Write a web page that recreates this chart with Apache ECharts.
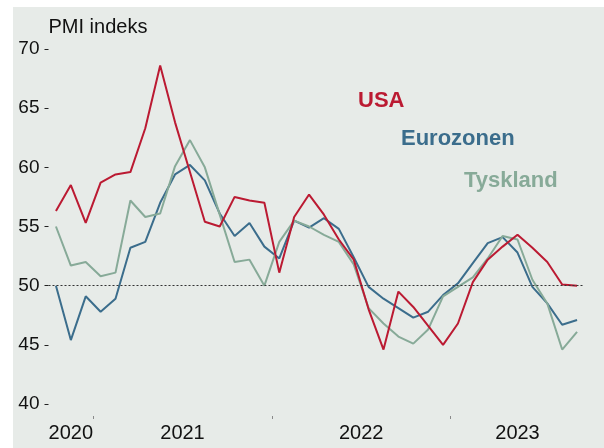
<!DOCTYPE html>
<html>
<head>
<meta charset="utf-8">
<script src="https://cdn.jsdelivr.net/npm/echarts@6/dist/echarts.min.js"></script>
<style>
  html, body { margin: 0; padding: 0; background: #fff; }
  #chart { width: 604px; height: 448px; }
</style>
</head>
<body>
<div id="chart"></div>
<script>
const MONTHS = [
  "2020-10", "2020-11", "2020-12",
  "2021-01", "2021-02", "2021-03", "2021-04", "2021-05", "2021-06",
  "2021-07", "2021-08", "2021-09", "2021-10", "2021-11", "2021-12",
  "2022-01", "2022-02", "2022-03", "2022-04", "2022-05", "2022-06",
  "2022-07", "2022-08", "2022-09", "2022-10", "2022-11", "2022-12",
  "2023-01", "2023-02", "2023-03", "2023-04", "2023-05", "2023-06",
  "2023-07", "2023-08", "2023-09",
];
const YEAR_LABELS = ["2020", "2021", "2022", "2023"];

const USA = [
  56.3, 58.5, 55.3, 58.7, 59.4, 59.6, 63.3, 68.6, 63.8, 59.6, 55.4, 55.0,
  57.5, 57.2, 57.0, 51.1, 55.8, 57.7, 56.0, 53.9, 52.2, 48.0, 44.6, 49.5,
  48.2, 46.6, 45.0, 46.8, 50.3, 52.2, 53.3, 54.3, 53.2, 52.0, 50.1, 50.0,
];
const EUROZONEN = [
  50.0, 45.4, 49.1, 47.8, 48.9, 53.2, 53.7, 57.0, 59.4, 60.2, 58.9, 56.1,
  54.2, 55.3, 53.3, 52.3, 55.5, 54.9, 55.7, 54.8, 52.4, 49.9, 48.9, 48.1,
  47.3, 47.8, 49.2, 50.2, 51.9, 53.6, 54.1, 52.8, 49.9, 48.5, 46.7, 47.1,
];
const TYSKLAND = [
  55.0, 51.7, 52.0, 50.8, 51.1, 57.2, 55.8, 56.1, 60.1, 62.3, 60.0, 56.0,
  52.0, 52.2, 50.0, 53.7, 55.5, 55.0, 54.3, 53.7, 51.8, 48.1, 46.8, 45.7,
  45.1, 46.3, 49.1, 49.9, 50.7, 52.3, 54.2, 53.9, 50.5, 48.5, 44.6, 46.1,
];
const Y_MIN = 40;
const Y_MAX = 70;
const Y_STEP = 5;
const REFERENCE_LEVEL = 50;

const RED = "#bb1a32";
const BLUE = "#3b6d8c";
const GREEN = "#87aa98";

// half-month grid: slot k sits at month index (k - 1) / 2, so it spans the band edges
const slots = [];
for (let k = 0; k <= MONTHS.length * 2; k++) slots.push(String(k));

const yearCenterSlot = {};
YEAR_LABELS.forEach((year) => {
  const idx = MONTHS.map((m, i) => (m.startsWith(year) ? i : -1)).filter((i) => i >= 0);
  const mean = idx.reduce((a, b) => a + b, 0) / idx.length;
  yearCenterSlot[Math.round(mean * 2 + 1)] = year;
});
const boundarySlots = new Set(
  MONTHS.map((m, i) => (m.endsWith("-01") && i > 0 ? i * 2 : -1)).filter((k) => k > 0)
);

const chart = echarts.init(document.getElementById("chart"), null, { renderer: "canvas" });

const FONT = "Liberation Sans, Arial, sans-serif";

chart.setOption({
  backgroundColor: "#fff",
  animation: false,
  textStyle: { fontFamily: FONT },
  graphic: [
    {
      type: "rect",
      z: -10,
      shape: { x: 13, y: 7, width: 591, height: 441 },
      style: { fill: "#e7ebe8" },
      silent: true,
    },
    {
      type: "text",
      left: 358,
      top: 90,
      style: { text: "USA", fill: RED, font: `bold 22px ${FONT}` },
    },
    {
      type: "text",
      left: 401,
      top: 128,
      style: { text: "Eurozonen", fill: BLUE, font: `bold 22px ${FONT}` },
    },
    {
      type: "text",
      left: 464,
      top: 170,
      style: { text: "Tyskland", fill: GREEN, font: `bold 22px ${FONT}` },
    },
  ],
  grid: { left: 48.5, right: 19.5, top: 49, bottom: 44 },
  xAxis: [
    {
      type: "category",
      data: MONTHS,
      boundaryGap: true,
      show: false,
    },
    {
      type: "category",
      data: slots,
      boundaryGap: false,
      position: "bottom",
      offset: 12,
      axisLine: { show: false },
      axisTick: {
        show: true,
        length: 3,
        interval: (k) => boundarySlots.has(k),
        lineStyle: { color: "#8a8a8a", width: 1 },
      },
      axisLabel: {
        interval: (k) => yearCenterSlot[k] !== undefined,
        formatter: (v, k) => yearCenterSlot[k] || "",
        color: "#111",
        fontSize: 20,
        margin: 7,
      },
    },
  ],
  yAxis: {
    type: "value",
    min: Y_MIN,
    max: Y_MAX,
    interval: Y_STEP,
    name: "PMI indeks",
    nameLocation: "end",
    nameGap: 12,
    nameTextStyle: { color: "#111", fontSize: 20, align: "left" },
    axisLine: { show: false },
    axisTick: { show: true, length: 4, lineStyle: { color: "#222", width: 1 } },
    splitLine: { show: false },
    axisLabel: { color: "#111", fontSize: 19, margin: 9 },
  },
  series: [
    {
      name: "Eurozonen",
      type: "line",
      data: EUROZONEN,
      symbol: "none",
      lineStyle: { color: BLUE, width: 2 },
      markLine: {
        silent: true,
        symbol: "none",
        label: { show: false },
        lineStyle: { color: "#333", type: [2, 2], width: 1.2 },
        data: [{ yAxis: REFERENCE_LEVEL }],
      },
      z: 2,
    },
    {
      name: "Tyskland",
      type: "line",
      data: TYSKLAND,
      symbol: "none",
      lineStyle: { color: GREEN, width: 2 },
      z: 3,
    },
    {
      name: "USA",
      type: "line",
      data: USA,
      symbol: "none",
      lineStyle: { color: RED, width: 2 },
      z: 4,
    },
  ],
});
</script>
</body>
</html>
